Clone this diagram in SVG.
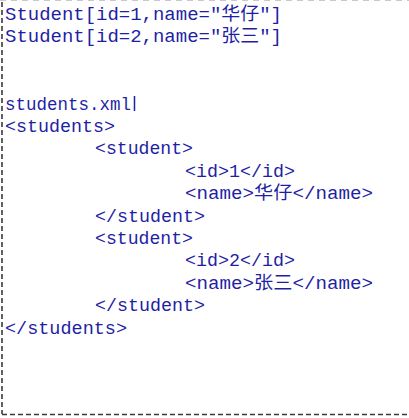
<svg xmlns="http://www.w3.org/2000/svg" width="409" height="418" viewBox="0 0 409 418">
<style>
.t{font-family:"Liberation Mono","Noto Sans CJK SC",monospace;font-size:18px;fill:#1f1fa5;}
.b{stroke:#3a3a3a;stroke-width:1.6;stroke-dasharray:5 3;fill:none;}
</style>
<rect width="409" height="418" fill="#ffffff"/>
<g id="border">
<line x1="0" y1="0.5" x2="409" y2="0.5" stroke="#c8c8d0" stroke-width="1" stroke-dasharray="6 5"/>
<line class="b" x1="2" y1="2" x2="2" y2="414"/>
<line class="b" x1="2" y1="414.5" x2="409" y2="414.5"/>
</g>
<g id="objects">
<text class="t" x="5" y="20" textLength="277" lengthAdjust="spacingAndGlyphs">Student[id=1,name="华仔"]</text>
<text class="t" x="5" y="42.4" textLength="277" lengthAdjust="spacingAndGlyphs">Student[id=2,name="张三"]</text>
</g>
<g id="xml">
<text class="t" x="5" y="109.6" textLength="126" lengthAdjust="spacingAndGlyphs">students.xml</text>
<line x1="134.5" y1="96" x2="134.5" y2="111" stroke="#1f1fa5" stroke-width="1.5"/>
<text class="t" x="5" y="132" textLength="110" lengthAdjust="spacingAndGlyphs">&lt;students&gt;</text>
<text class="t" x="95" y="154.4" textLength="98" lengthAdjust="spacingAndGlyphs">&lt;student&gt;</text>
<text class="t" x="185" y="176.8" textLength="110" lengthAdjust="spacingAndGlyphs">&lt;id&gt;1&lt;/id&gt;</text>
<text class="t" x="185" y="199.2" textLength="188" lengthAdjust="spacingAndGlyphs">&lt;name&gt;华仔&lt;/name&gt;</text>
<text class="t" x="95" y="221.6" textLength="110" lengthAdjust="spacingAndGlyphs">&lt;/student&gt;</text>
<text class="t" x="95" y="244" textLength="98" lengthAdjust="spacingAndGlyphs">&lt;student&gt;</text>
<text class="t" x="185" y="266.4" textLength="110" lengthAdjust="spacingAndGlyphs">&lt;id&gt;2&lt;/id&gt;</text>
<text class="t" x="185" y="288.8" textLength="188" lengthAdjust="spacingAndGlyphs">&lt;name&gt;张三&lt;/name&gt;</text>
<text class="t" x="95" y="311.2" textLength="110" lengthAdjust="spacingAndGlyphs">&lt;/student&gt;</text>
<text class="t" x="5" y="333.6" textLength="122" lengthAdjust="spacingAndGlyphs">&lt;/students&gt;</text>
</g>
</svg>
